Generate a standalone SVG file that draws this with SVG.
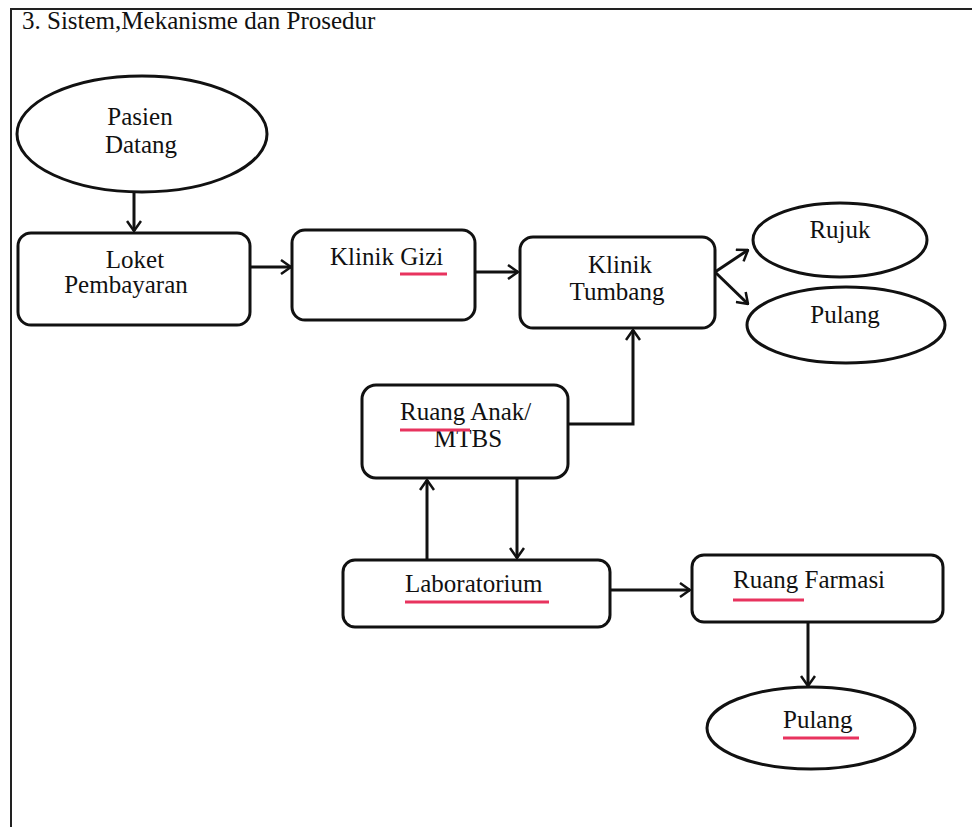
<svg xmlns="http://www.w3.org/2000/svg" width="972" height="827" viewBox="0 0 972 827">
<defs>
<style>
.t{font-family:'Liberation Serif','Tinos','DejaVu Serif','Noto Serif',serif;font-size:25px;fill:#111}
.c{text-anchor:middle}
.n{fill:#fff;stroke:#111;stroke-width:3}
.e{fill:none;stroke:#111;stroke-width:3}
.u{stroke:#e8335e;stroke-width:3}
.f{stroke:#222;stroke-width:2;fill:none}
</style>
<marker id="ah" viewBox="0 0 12 16" refX="11" refY="8" markerWidth="12" markerHeight="16" markerUnits="userSpaceOnUse" orient="auto">
<path d="M1,1 L11,8 L1,15" fill="none" stroke="#111" stroke-width="2.5"/>
</marker>
</defs>
<rect width="972" height="827" fill="#fff"/>
<g id="frame">
<path class="f" d="M11,827 L11,9 L972,9"/>
<text class="t" x="22" y="29">3. Sistem,Mekanisme dan Prosedur</text>
</g>
<g id="connectors">
<path class="e" marker-end="url(#ah)" d="M134,192 L134,231"/>
<path class="e" marker-end="url(#ah)" d="M250,267 L291,267"/>
<path class="e" marker-end="url(#ah)" d="M475,272 L518,272"/>
<path class="e" marker-end="url(#ah)" d="M715,272 L748,250"/>
<path class="e" marker-end="url(#ah)" d="M715,272 L748,304"/>
<path class="e" marker-end="url(#ah)" d="M568,424 L633,424 L633,330"/>
<path class="e" marker-end="url(#ah)" d="M427,560 L427,480"/>
<path class="e" marker-end="url(#ah)" d="M517,478 L517,558"/>
<path class="e" marker-end="url(#ah)" d="M610,590 L690,590"/>
<path class="e" marker-end="url(#ah)" d="M808,622 L808,686"/>
</g>
<g id="pasien-datang">
<ellipse class="n" cx="142" cy="134" rx="125" ry="58"/>
<text class="t c" x="140" y="125">Pasien</text>
<text class="t c" x="141" y="153">Datang</text>
</g>
<g id="loket">
<rect class="n" x="18" y="233" width="232" height="92" rx="13"/>
<text class="t c" x="135" y="268">Loket</text>
<text class="t c" x="126" y="293">Pembayaran</text>
</g>
<g id="klinik-gizi">
<rect class="n" x="292" y="230" width="183" height="90" rx="13"/>
<text class="t" x="330" y="265">Klinik Gizi</text>
<line class="u" x1="400" y1="274" x2="447" y2="274"/>
</g>
<g id="klinik-tumbang">
<rect class="n" x="520" y="237" width="195" height="91" rx="13"/>
<text class="t c" x="620" y="273">Klinik</text>
<text class="t c" x="617" y="300">Tumbang</text>
</g>
<g id="rujuk">
<ellipse class="n" cx="840" cy="240" rx="87" ry="37"/>
<text class="t c" x="840" y="238">Rujuk</text>
</g>
<g id="pulang-1">
<ellipse class="n" cx="846" cy="325" rx="99" ry="38"/>
<text class="t c" x="845" y="323">Pulang</text>
</g>
<g id="ruang-anak">
<rect class="n" x="362" y="385" width="206" height="93" rx="14"/>
<text class="t" x="400" y="420">Ruang Anak/</text>
<text class="t c" x="468" y="447">MTBS</text>
<line class="u" x1="400" y1="430" x2="470" y2="430"/>
</g>
<g id="laboratorium">
<rect class="n" x="343" y="560" width="267" height="67" rx="12"/>
<text class="t" x="405" y="592">Laboratorium</text>
<line class="u" x1="405" y1="602" x2="549" y2="602"/>
</g>
<g id="ruang-farmasi">
<rect class="n" x="692" y="555" width="251" height="67" rx="12"/>
<text class="t" x="733" y="588">Ruang Farmasi</text>
<line class="u" x1="733" y1="600" x2="804" y2="600"/>
</g>
<g id="pulang-2">
<ellipse class="n" cx="811" cy="728" rx="104" ry="41"/>
<text class="t" x="783" y="728">Pulang</text>
<line class="u" x1="783" y1="738" x2="859" y2="738"/>
</g>
</svg>
